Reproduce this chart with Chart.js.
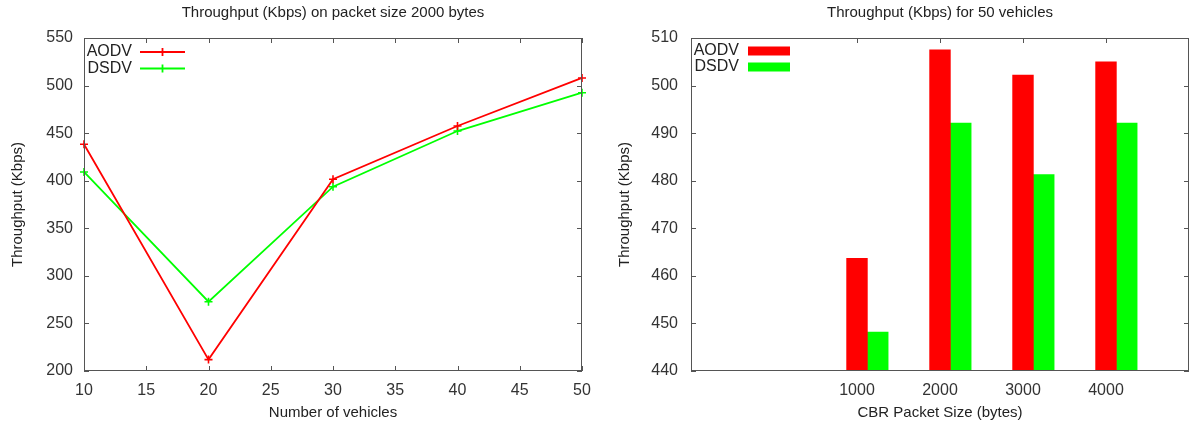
<!DOCTYPE html>
<html>
<head>
<meta charset="utf-8">
<script src="https://cdn.jsdelivr.net/npm/chart.js@4.4.0/dist/chart.umd.min.js"></script>
<style>
  html, body { margin: 0; padding: 0; background: #fff; }
  #wrap { position: relative; width: 1192px; height: 427px; }
  canvas { position: absolute; top: 0; }
  #lineCanvas { left: 0; }
  #barCanvas { left: 596px; }
</style>
</head>
<body>
<div id="wrap">
  <canvas id="lineCanvas" width="596" height="427"></canvas>
  <canvas id="barCanvas" width="596" height="427"></canvas>
</div>
<script>
// --- data ---
const vehicles = [10, 20, 30, 40, 50];
const aodvVsVehicles = [438.3, 212.0, 401.5, 457.5, 508.0];
const dsdvVsVehicles = [409.2, 272.8, 393.7, 452.2, 492.5];

const packetSizes = ['1000', '2000', '3000', '4000'];
const aodvVsPacket = [463.7, 507.5, 502.2, 505.0];
const dsdvVsPacket = [448.2, 492.1, 481.3, 492.1];

const seriesNames = ['AODV', 'DSDV'];
const seriesColors = ['#ff0000', '#00ff00'];

// packet sizes sit on slots 2..5 of a 0..6 axis, DSDV box shifted right by one box width
const firstSlot = 2;
const boxShift = 0.25;

Chart.defaults.font.family = '"Liberation Sans", Arial, sans-serif';
Chart.defaults.font.size = 15;
Chart.defaults.color = '#333';

const frameColor = '#555';

// gnuplot style border with inward ticks on all four sides
const gnuFrame = {
    id: 'gnuFrame',
    beforeDatasetsDraw(chart) {
        const { ctx, chartArea: a, scales: { x, y } } = chart;
        const len = 5;
        ctx.save();
        ctx.strokeStyle = frameColor;
        ctx.lineWidth = 1;
        ctx.beginPath();
        x.ticks.forEach(t => {
            if (t.label === '') return;
            const px = Math.round(x.getPixelForValue(t.value)) + 0.5;
            ctx.moveTo(px, a.bottom); ctx.lineTo(px, a.bottom - len);
            ctx.moveTo(px, a.top); ctx.lineTo(px, a.top + len);
        });
        y.ticks.forEach(t => {
            const py = Math.round(y.getPixelForValue(t.value)) + 0.5;
            ctx.moveTo(a.left, py); ctx.lineTo(a.left + len, py);
            ctx.moveTo(a.right, py); ctx.lineTo(a.right - len, py);
        });
        ctx.stroke();
        ctx.restore();
    },
    afterDatasetsDraw(chart) {
        const { ctx, chartArea: a } = chart;
        ctx.save();
        ctx.strokeStyle = frameColor;
        ctx.lineWidth = 1;
        ctx.strokeRect(Math.round(a.left) + 0.5, Math.round(a.top) + 0.5,
                       Math.round(a.width) - 1, Math.round(a.height) - 1);
        ctx.restore();
    }
};

// key in the top-left corner: title first, sample after it
const gnuKey = {
    id: 'gnuKey',
    afterDraw(chart, args, opts) {
        const { ctx, chartArea: a } = chart;
        ctx.save();
        ctx.font = '16px "Liberation Sans", Arial, sans-serif';
        ctx.fillStyle = '#222';
        ctx.textAlign = 'right';
        ctx.textBaseline = 'middle';
        chart.data.datasets.forEach((ds, i) => {
            const cy = a.top + opts.firstRow + i * opts.rowGap;
            ctx.fillText(ds.label, a.left + opts.textRight, cy);
            const x0 = a.left + opts.sampleX;
            const x1 = x0 + opts.sampleLen;
            if (opts.mode === 'box') {
                ctx.fillStyle = ds.backgroundColor;
                ctx.fillRect(x0, cy - 4.5, opts.sampleLen, 9);
                ctx.fillStyle = '#222';
            } else {
                ctx.strokeStyle = ds.borderColor;
                ctx.lineWidth = ds.borderWidth;
                ctx.beginPath();
                ctx.moveTo(x0, cy); ctx.lineTo(x1, cy);
                const mx = (x0 + x1) / 2;
                ctx.moveTo(mx - 4, cy); ctx.lineTo(mx + 4, cy);
                ctx.moveTo(mx, cy - 4); ctx.lineTo(mx, cy + 4);
                ctx.stroke();
            }
        });
        ctx.restore();
    }
};

function fixWidth(w) {
    return scale => { scale.width = w; };
}
// fixed height, and no extra side padding for the end labels
function fixHeight(h) {
    return scale => {
        scale.height = h;
        scale.paddingLeft = 0;
        scale.paddingRight = 0;
    };
}

// --- left: throughput vs number of vehicles ---
const lineSeries = [aodvVsVehicles, dsdvVsVehicles];
new Chart(document.getElementById('lineCanvas'), {
    type: 'line',
    data: {
        datasets: lineSeries.map((vals, i) => ({
            label: seriesNames[i],
            data: vehicles.map((v, j) => ({ x: v, y: vals[j] })),
            borderColor: seriesColors[i],
            backgroundColor: seriesColors[i],
            borderWidth: 1.8,
            pointStyle: 'cross',
            pointRadius: 4,
            pointBorderWidth: 1.6,
            tension: 0,
            clip: false
        }))
    },
    options: {
        responsive: false,
        animation: false,
        devicePixelRatio: 1,
        layout: { padding: { left: 0, right: 14, top: 0, bottom: 0 } },
        plugins: {
            legend: { display: false },
            tooltip: { enabled: false },
            title: {
                display: true,
                text: 'Throughput (Kbps) on packet size 2000 bytes',
                fullSize: false,
                color: '#222',
                font: { size: 15, weight: 'normal' },
                padding: { top: 4, bottom: 16 }
            },
            gnuKey: { firstRow: 14, rowGap: 16.5, textRight: 48, sampleX: 56, sampleLen: 45, mode: 'line' }
        },
        scales: {
            x: {
                type: 'linear',
                min: 10, max: 50,
                grid: { display: false, drawTicks: false },
                border: { display: false },
                ticks: { stepSize: 5, padding: 10, color: '#333', font: { size: 16 } },
                title: { display: true, text: 'Number of vehicles', color: '#222', font: { size: 15 }, padding: { top: 7, bottom: 5 } },
                afterFit: fixHeight(56)
            },
            y: {
                min: 200, max: 550,
                grid: { display: false, drawTicks: false },
                border: { display: false },
                ticks: { stepSize: 50, padding: 11, color: '#333', font: { size: 16 } },
                title: { display: true, text: 'Throughput (Kbps)', color: '#222', font: { size: 15 }, padding: { top: 9, bottom: 0 } },
                afterFit: fixWidth(84)
            }
        }
    },
    plugins: [gnuFrame, gnuKey]
});

// --- right: throughput vs CBR packet size ---
const barSeries = [aodvVsPacket, dsdvVsPacket];
new Chart(document.getElementById('barCanvas'), {
    type: 'bar',
    data: {
        datasets: barSeries.map((vals, i) => ({
            label: seriesNames[i],
            data: packetSizes.map((s, j) => ({ x: firstSlot + j + i * boxShift, y: vals[j] })),
            backgroundColor: seriesColors[i],
            borderWidth: 0,
            grouped: false,
            barPercentage: 1,
            categoryPercentage: 1
        }))
    },
    options: {
        responsive: false,
        animation: false,
        devicePixelRatio: 1,
        layout: { padding: { left: 0, right: 3, top: 0, bottom: 0 } },
        plugins: {
            legend: { display: false },
            tooltip: { enabled: false },
            title: {
                display: true,
                text: 'Throughput (Kbps) for 50 vehicles',
                fullSize: false,
                color: '#222',
                font: { size: 15, weight: 'normal' },
                padding: { top: 4, bottom: 16 }
            },
            gnuKey: { firstRow: 13, rowGap: 16, textRight: 48, sampleX: 57, sampleLen: 42, mode: 'box' }
        },
        scales: {
            x: {
                type: 'linear',
                min: 0, max: firstSlot + packetSizes.length,
                offset: false,
                grid: { display: false, drawTicks: false, offset: false },
                border: { display: false },
                ticks: {
                    stepSize: 1,
                    autoSkip: false,
                    padding: 10,
                    color: '#333',
                    font: { size: 16 },
                    callback: v => packetSizes[v - firstSlot] ?? ''
                },
                title: { display: true, text: 'CBR Packet Size (bytes)', color: '#222', font: { size: 15 }, padding: { top: 7, bottom: 5 } },
                afterFit: fixHeight(56)
            },
            y: {
                min: 440, max: 510,
                beginAtZero: false,
                grid: { display: false, drawTicks: false },
                border: { display: false },
                ticks: { stepSize: 10, padding: 13, color: '#333', font: { size: 16 } },
                title: { display: true, text: 'Throughput (Kbps)', color: '#222', font: { size: 15 }, padding: { top: 20, bottom: 0 } },
                afterFit: fixWidth(95)
            }
        }
    },
    plugins: [gnuFrame, gnuKey]
});
</script>
</body>
</html>
